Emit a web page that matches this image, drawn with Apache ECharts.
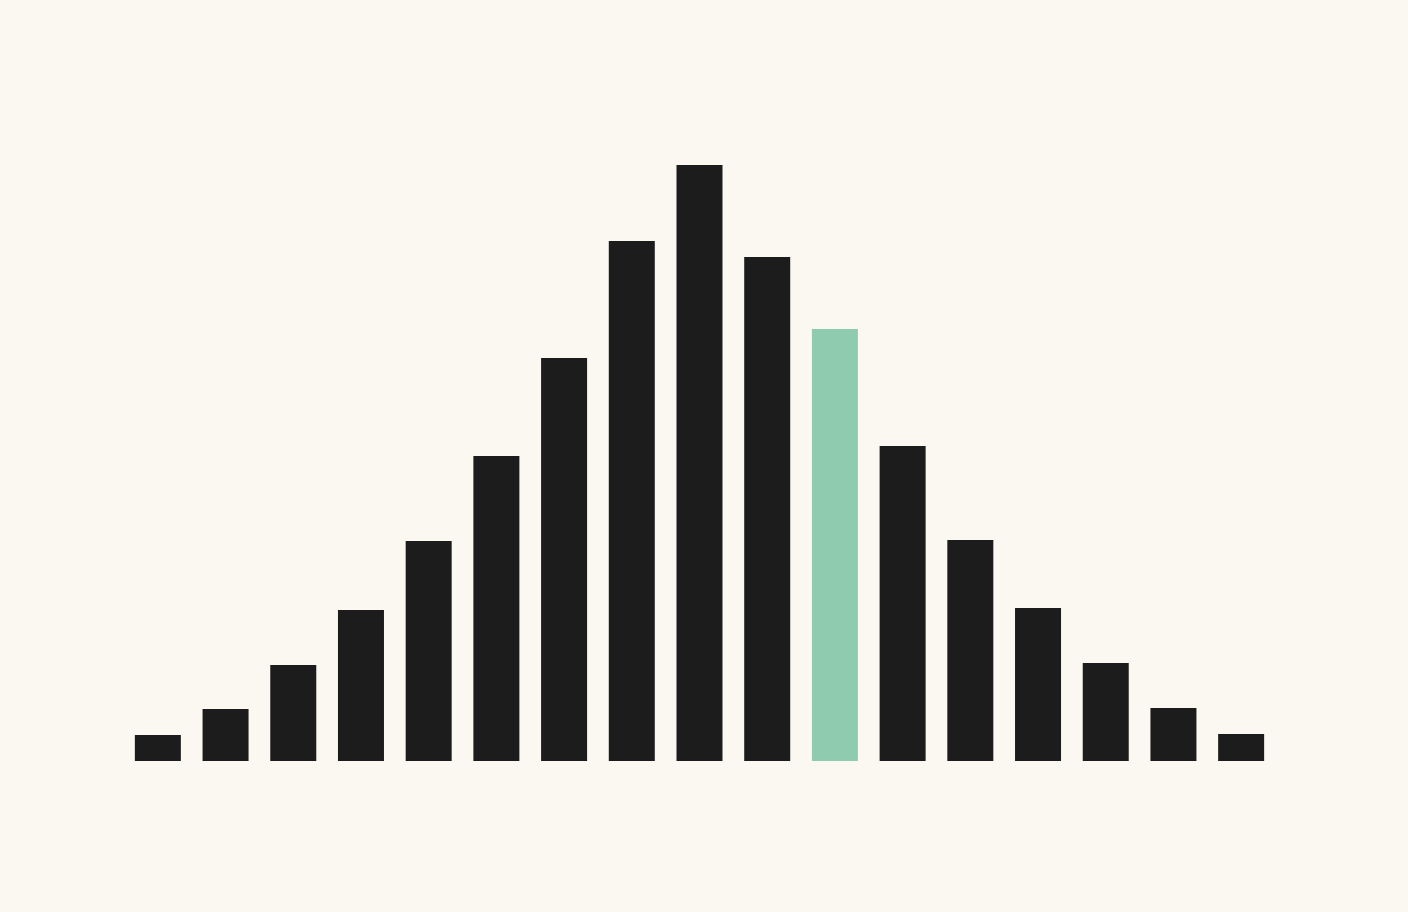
<!DOCTYPE html>
<html><head><meta charset="utf-8">
<script src="https://cdn.jsdelivr.net/npm/echarts@6/dist/echarts.min.js"></script>
<style>html,body{margin:0;padding:0;background:#fbf8f2;}#c{width:1408px;height:912px;}</style>
</head><body><div id="c"></div>
<script>
const categories = ['1','2','3','4','5','6','7','8','9','10','11','12','13','14','15','16','17'];
const values = [26, 52, 96, 151, 220, 305, 403, 520, 596, 504, 432, 315, 221, 153, 98, 53, 27];
const highlightIndex = 10;
const chart = echarts.init(document.getElementById('c'));
chart.setOption({
  backgroundColor: '#fbf8f2',
  animation: false,
  grid: {left: 124, right: 133, top: 161, bottom: 151},
  xAxis: {type: 'category', data: categories, show: false, boundaryGap: true},
  yAxis: {type: 'value', min: 0, max: 600, show: false},
  series: [{
    type: 'bar',
    barWidth: 46,
    data: values.map((v, i) => ({value: v, itemStyle: {color: i === highlightIndex ? '#8fcbaf' : '#1c1c1c'}}))
  }]
});
</script></body></html>
